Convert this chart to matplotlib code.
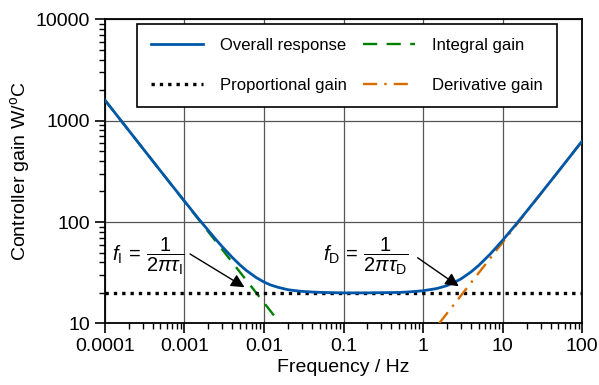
import matplotlib.pyplot as plt
from matplotlib.ticker import LogLocator, NullFormatter

plt.rcParams['font.family'] = ['Liberation Sans', 'DejaVu Sans']
plt.rcParams['mathtext.fontset'] = 'custom'
plt.rcParams['mathtext.rm'] = 'Liberation Sans'
plt.rcParams['mathtext.it'] = 'Liberation Sans:italic'

# values
freq_overall = [1e-4, 1.5e-4, 2e-4, 3e-4, 5e-4, 7e-4, 1e-3, 1.5e-3, 2e-3, 2.5e-3, 3e-3, 4e-3,
                5e-3, 6e-3, 8e-3, 0.01, 0.012, 0.015, 0.02, 0.025, 0.03, 0.04, 0.05, 0.07,
                0.1, 0.2, 0.5, 0.7, 1, 1.5, 2, 2.5, 3, 4, 5, 7, 10, 15, 20, 30, 50, 100]
gain_overall = [1600, 1067, 800, 533, 320, 229, 161, 108, 82.5, 67, 56.9, 44.7,
                37.7, 33.3, 28.3, 25.6, 24.0, 22.7, 21.5, 21.0, 20.7, 20.4, 20.25, 20.1,
                20.0, 20.0, 20.2, 20.5, 21.0, 22.1, 23.6, 25.5, 27.5, 32.2, 37.3, 48.4, 66.1, 96.6, 127.6, 190, 315, 630]
freq_integral = [1e-4, 0.016]
gain_integral = [1600, 10]
freq_prop = [1e-4, 100]
gain_prop = [20, 20]
freq_deriv = [1.59, 100]
gain_deriv = [10, 630]

fig = plt.figure(figsize=(5.99, 3.85), dpi=100)
ax = fig.add_axes([0.175, 0.16, 0.797, 0.79])

l_all, = ax.plot(freq_overall, gain_overall, color='#0057A8', lw=2.0, label='Overall response', zorder=4)
l_int, = ax.plot(freq_integral, gain_integral, color='#008000', lw=1.7, ls=(0, (6, 4)), label='Integral gain', zorder=3)
l_pro, = ax.plot(freq_prop, gain_prop, color='black', lw=2.4, ls=(0, (1, 1.5)), label='Proportional gain', zorder=3)
l_der, = ax.plot(freq_deriv, gain_deriv, color='#D86C00', lw=1.7, ls=(0, (6, 3, 1, 3)), label='Derivative gain', zorder=3)

ax.set_xscale('log')
ax.set_yscale('log')
ax.set_xlim(1e-4, 100)
ax.set_ylim(10, 10000)
ax.set_xticks([1e-4, 1e-3, 1e-2, 0.1, 1, 10, 100])
ax.set_xticklabels(['0.0001', '0.001', '0.01', '0.1', '1', '10', '100'])
ax.set_yticks([10, 100, 1000, 10000])
ax.set_yticklabels(['10', '100', '1000', '10000'])
ax.xaxis.set_minor_locator(LogLocator(base=10, subs=range(2, 10), numticks=100))
ax.yaxis.set_minor_locator(LogLocator(base=10, subs=range(2, 10), numticks=100))
ax.xaxis.set_minor_formatter(NullFormatter())
ax.yaxis.set_minor_formatter(NullFormatter())
ax.tick_params(which='major', direction='out', length=7, width=1.2, labelsize=14)
ax.tick_params(which='minor', direction='out', length=4, width=1.0)
ax.tick_params(axis='x', which='both', top=False)
ax.tick_params(axis='y', which='both', right=False)
ax.grid(True, which='major', color='#555555', lw=0.9)
for s in ax.spines.values():
    s.set_linewidth(1.3)

ax.set_xlabel('Frequency / Hz', fontsize=14, labelpad=3)
ax.set_ylabel('Controller gain W/$^\\mathrm{o}$C', fontsize=14, labelpad=3)

leg = ax.legend([l_all, l_pro, l_int, l_der],
                ['Overall response', 'Proportional gain', 'Integral gain', 'Derivative gain'],
                ncol=2, loc='upper center', bbox_to_anchor=(0.507, 0.985), borderaxespad=0,
                fontsize=12, frameon=True, fancybox=False, framealpha=1, edgecolor='black',
                handlelength=3.1, columnspacing=1.0, labelspacing=1.5, borderpad=0.85,
                handletextpad=1.0)
leg.get_frame().set_linewidth(1.2)

ax.annotate('', xy=(6.1e-3, 22.0), xytext=(1.1e-3, 50),
            arrowprops=dict(arrowstyle='-|>', color='black', lw=1, mutation_scale=20), zorder=6)
ax.text(3.57e-4, 46, r'$f_\mathrm{I}\,=\,\dfrac{1}{2\pi\tau_\mathrm{I}}$', fontsize=14.5,
        ha='center', va='center')
ax.annotate('', xy=(3.0, 22.4), xytext=(0.8, 46),
            arrowprops=dict(arrowstyle='-|>', color='black', lw=1, mutation_scale=20), zorder=6)
ax.text(0.19, 46, r'$f_\mathrm{D}\,=\,\dfrac{1}{2\pi\tau_\mathrm{D}}$', fontsize=14.5,
        ha='center', va='center')

fig.savefig('out.png', dpi=100)
